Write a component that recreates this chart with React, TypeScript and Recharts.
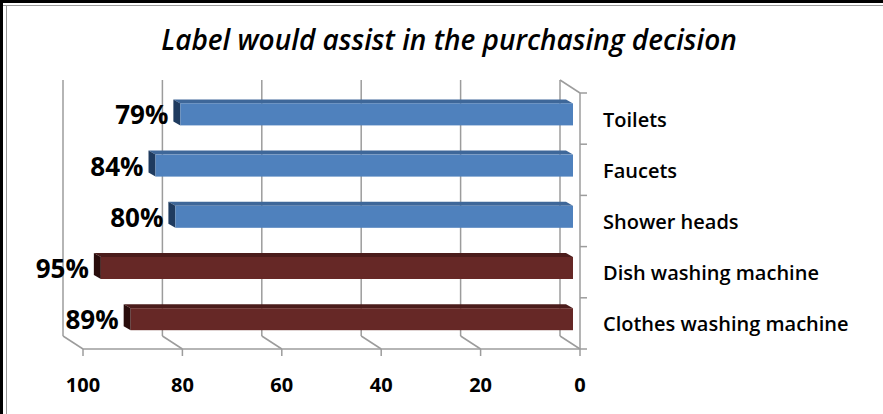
import { BarChart, Bar, XAxis, YAxis, CartesianGrid, LabelList } from 'recharts';

const categories = ['Toilets', 'Faucets', 'Shower heads', 'Dish washing machine', 'Clothes washing machine'];
const shares = [79, 84, 80, 95, 89];
const groups = ['fixture', 'fixture', 'fixture', 'appliance', 'appliance'];
const xTicks = [0, 20, 40, 60, 80, 100];

const data = categories.map((name, i) => ({ name, value: shares[i], group: groups[i] }));

const W = 883;
const H = 414;
const MARGIN = { top: 93, left: 83, right: 0, bottom: 0 };
const Y_AXIS_W = 303;
const X_AXIS_H = 65;
const PLOT_RIGHT = W - MARGIN.right - Y_AXIS_W;
const PLOT_BOTTOM = H - MARGIN.bottom - X_AXIS_H;
const BAND = (PLOT_BOTTOM - MARGIN.top) / categories.length;

// fake 3d: back wall offset, bar plane offset and bar depth
const BACK = { dx: -20, dy: -13 };
const SHIFT = { dx: -7, dy: -4.6 };
const DEPTH = { dx: -7, dy: -4 };

const GRID = '#9c9c9c';
const FONT = '"Open Sans", Calibri, sans-serif';

const palette: Record<string, { front: string; top: string; side: string }> = {
  fixture: { front: '#4f81bd', top: '#3e6799', side: '#1f3b5f' },
  appliance: { front: '#662826', top: '#4b1c1b', side: '#2a0d0c' },
};

function Bar3D(props: any) {
  const { x, y, width, height, index } = props;
  const c = palette[groups[index]];
  const left = Math.min(x, x + width) + SHIFT.dx;
  const right = Math.max(x, x + width) + SHIFT.dx;
  const top = y + SHIFT.dy;
  const bottom = y + height + SHIFT.dy;
  const pts = (p: number[][]) => p.map(q => q.join(',')).join(' ');
  return (
    <g>
      <polygon
        fill={c.top}
        points={pts([[left, top], [right, top], [right + DEPTH.dx, top + DEPTH.dy], [left + DEPTH.dx, top + DEPTH.dy]])}
      />
      <polygon
        fill={c.side}
        points={pts([[left, top], [left + DEPTH.dx, top + DEPTH.dy], [left + DEPTH.dx, bottom + DEPTH.dy], [left, bottom]])}
      />
      <rect x={left} y={top} width={right - left} height={bottom - top} fill={c.front} />
    </g>
  );
}

function ValueLabel(props: any) {
  const vb = props.viewBox || {};
  const x = props.x ?? vb.x;
  const y = props.y ?? vb.y;
  const width = props.width ?? vb.width;
  const height = props.height ?? vb.height;
  const left = Math.min(x, x + width) + SHIFT.dx;
  return (
    <text
      x={left + DEPTH.dx - 5}
      y={y + height + SHIFT.dy - 1}
      textAnchor="end"
      fontFamily={FONT}
      fontWeight={700}
      fontSize={26}
      fill="#000"
    >
      {props.value}%
    </text>
  );
}

function wallLine(p: any) {
  const { x1, y1, y2 } = p;
  const bx = x1 + BACK.dx;
  return (
    <g key={p.key} stroke={GRID} strokeWidth={1.5} fill="none">
      <line x1={bx} y1={y1 + BACK.dy} x2={bx} y2={y2 + BACK.dy} />
      <line x1={bx} y1={y2 + BACK.dy} x2={x1} y2={y2} />
      {Math.abs(x1 - PLOT_RIGHT) < 1 && <line x1={bx} y1={y1 + BACK.dy} x2={x1} y2={y1} />}
    </g>
  );
}

function XTick(props: any) {
  const { x, y, payload } = props;
  return (
    <text x={x} y={y + 34} textAnchor="middle" fontFamily={FONT} fontWeight={700} fontSize={20} fill="#000">
      {payload.value}
    </text>
  );
}

function CategoryTick(props: any) {
  const { y, payload, index, visibleTicksCount } = props;
  const last = index === (visibleTicksCount ?? categories.length) - 1;
  return (
    <g>
      <line x1={PLOT_RIGHT} x2={PLOT_RIGHT + 7} y1={y - BAND / 2} y2={y - BAND / 2} stroke={GRID} strokeWidth={1.5} />
      {last && (
        <line x1={PLOT_RIGHT} x2={PLOT_RIGHT + 7} y1={y + BAND / 2} y2={y + BAND / 2} stroke={GRID} strokeWidth={1.5} />
      )}
      <text x={PLOT_RIGHT + 23} y={y + 8} textAnchor="start" fontFamily={FONT} fontWeight={600} fontSize={20} fill="#000">
        {payload.value}
      </text>
    </g>
  );
}

export default function App() {
  return (
    <div style={{ position: 'absolute', left: 0, top: 0, width: W, height: H, background: '#fff' }}>
      <BarChart width={W} height={H} data={data} layout="vertical" margin={MARGIN} barSize={22}>
        <CartesianGrid horizontal={false} vertical={wallLine} />
        <XAxis
          type="number"
          domain={[0, 100]}
          ticks={xTicks}
          reversed
          height={X_AXIS_H}
          axisLine={{ stroke: GRID, strokeWidth: 1.5 }}
          tickLine={{ stroke: GRID, strokeWidth: 1.5 }}
          tickSize={7}
          tick={<XTick />}
        />
        <YAxis
          type="category"
          dataKey="name"
          orientation="right"
          width={Y_AXIS_W}
          axisLine={{ stroke: GRID, strokeWidth: 1.5 }}
          tickLine={false}
          tick={<CategoryTick />}
        />
        <Bar dataKey="value" shape={<Bar3D />} isAnimationActive={false}>
          <LabelList dataKey="value" content={<ValueLabel />} />
        </Bar>
      </BarChart>
      <svg width={W} height={70} style={{ position: 'absolute', left: 0, top: 0 }}>
        <text
          x={449}
          y={50}
          textAnchor="middle"
          fontFamily={FONT}
          fontWeight={600}
          fontStyle="italic"
          fontSize={28}
          fill="#000"
        >
          Label would assist in the purchasing decision
        </text>
      </svg>
      <div style={{ position: 'absolute', left: 0, top: 0, width: W, height: 3, background: '#000' }} />
      <div style={{ position: 'absolute', left: 0, top: 5, width: W, height: 1, background: '#9a9a9a' }} />
      <div style={{ position: 'absolute', left: 0, top: 0, width: 3, height: H, background: '#000' }} />
      <div style={{ position: 'absolute', left: 6, top: 5, width: 1, height: H - 5, background: '#9a9a9a' }} />
    </div>
  );
}
